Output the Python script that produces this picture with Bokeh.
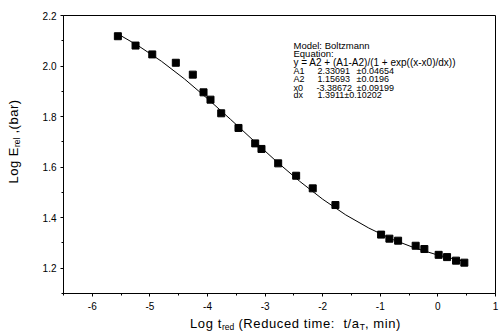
from bokeh.plotting import figure
from bokeh.models import Label, FixedTicker, PrintfTickFormatter, Range1d, Div
from bokeh.layouts import row, column
from bokeh.embed import file_html
from bokeh.resources import INLINE

# ---- data ----
log_t = [-5.556, -5.249, -4.959, -4.550, -4.255, -4.069, -3.948, -3.762,
         -3.462, -3.172, -3.063, -2.773, -2.461, -2.173, -1.779, -0.986,
         -0.842, -0.691, -0.386, -0.235, 0.013, 0.159, 0.315, 0.459]
log_e = [2.118, 2.081, 2.046, 2.013, 1.966, 1.896, 1.867, 1.813,
         1.755, 1.694, 1.672, 1.615, 1.566, 1.516, 1.450, 1.333,
         1.317, 1.309, 1.289, 1.276, 1.253, 1.244, 1.230, 1.222]

# fitted Boltzmann curve, sampled along the drawn line
fit_x = [-5.556, -5.2, -4.8, -4.4, -4.0, -3.6, -3.2, -2.8, -2.4, -2.0,
         -1.6, -1.2, -0.8, -0.4, 0.0, 0.459]
fit_y = [2.127, 2.080, 2.019, 1.949, 1.871, 1.789, 1.705, 1.622, 1.544,
         1.473, 1.411, 1.359, 1.315, 1.280, 1.252, 1.227]

x_ticks = [-6, -5, -4, -3, -2, -1, 0, 1]
x_minor = [-6.5, -5.5, -4.5, -3.5, -2.5, -1.5, -0.5, 0.5]
y_ticks = [1.2, 1.4, 1.6, 1.8, 2.0, 2.2]
y_minor = [1.1, 1.3, 1.5, 1.7, 1.9, 2.1]

param_names = ["A1", "A2", "x0"]
param_values = ["2.33091", "1.15693", "-3.38672"]
param_errors = ["\u00b10.04654", "\u00b10.0196", "\u00b10.09199"]
dx_line = "1.3911\u00b10.10202"

x_label_html = "Log t<span class='s'>red</span> (Reduced time:&nbsp; t/a<span class='s'>T</span>, min)"
y_label_html = "Log E<span class='s'>rel</span> ,(bar)"

FONT = "Liberation Sans"

W, H = 503, 336
YL_W = 30           # width of the y-label strip
XL_H = 20           # height of the x-label strip
FL, FR, FT, FB = 63, 495, 15, 293   # frame edges in page pixels
PW, PH = W - YL_W, H - XL_H

p = figure(width=PW, height=PH, title=None,
           x_range=Range1d(-6.5, 1), y_range=Range1d(1.1, 2.2),
           output_backend="svg", toolbar_location=None,
           min_border_left=FL - YL_W, min_border_right=W - FR,
           min_border_top=FT, min_border_bottom=PH - FB)
p.grid.visible = False
p.outline_line_color = "black"
p.outline_line_width = 1
p.background_fill_color = "white"
p.border_fill_color = "white"

for ax, tk, mn, fmt, so in ((p.xaxis, x_ticks, x_minor, "%d", 5),
                            (p.yaxis, y_ticks, y_minor, "%.1f", 4)):
    ax.ticker = FixedTicker(ticks=tk, minor_ticks=mn)
    ax.formatter = PrintfTickFormatter(format=fmt)
    ax.major_tick_in = 0
    ax.major_tick_out = 3
    ax.minor_tick_in = 0
    ax.minor_tick_out = 2
    ax.axis_line_color = "black"
    ax.major_tick_line_color = "black"
    ax.minor_tick_line_color = "black"
    ax.major_label_text_font = FONT
    ax.major_label_text_font_size = "10px"
    ax.major_label_text_color = "black"
    ax.major_label_standoff = so

p.line(fit_x, fit_y, line_color="black", line_width=1)
p.scatter(log_t, log_e, marker="square", size=7, color="black")

# page-pixel -> data helpers for text placement inside the frame
def X(px):
    return -6.5 + (px - FL) * 7.5 / (FR - FL)

def Y(py):
    return 2.2 - (py - FT) * 1.1 / (FB - FT)

def lab(px, py, text, size="9px"):
    p.add_layout(Label(x=X(px), y=Y(py), text=text, text_font=FONT,
                       text_font_size=size, text_color="black",
                       text_align="left", text_baseline="middle"))

# annotation box
lab(293, 45, "Model: Boltzmann", "9.5px")
lab(293, 53, "Equation:", "9.5px")
lab(293, 62, "y = A2 + (A1-A2)/(1 + exp((x-x0)/dx))", "10px")
rows_y = [70, 78, 87]
for name, val, err, ry in zip(param_names, param_values, param_errors, rows_y):
    lab(293, ry, name)
    lab(316 if val.startswith("-") else 317, ry, val)
    lab(356, ry, err)
lab(293, 94, "dx")
lab(317, 94, dx_line)

SUB_CSS = "<style>.s{font-size:8.5px;vertical-align:-2px;letter-spacing:0;}</style>"

xdiv = Div(width=PW, height=XL_H, margin=0,
           text=SUB_CSS + (
               "<div style=\"padding-left:%dpx;margin-top:-2px;line-height:13px;"
               "font-size:13px;font-family:'Liberation Sans';color:black;"
               "letter-spacing:0.6px;white-space:nowrap;\">%s</div>"
           ) % (190 - YL_W, x_label_html))

ydiv = Div(width=YL_W, height=H, margin=0,
           text=SUB_CSS + (
               "<div style=\"width:%dpx;height:%dpx;display:flex;align-items:center;"
               "justify-content:center;\">"
               "<div style=\"transform:rotate(-90deg);white-space:nowrap;flex:none;"
               "font-size:13px;line-height:15px;font-family:'Liberation Sans';"
               "color:black;letter-spacing:0.5px;\">%s</div></div>"
           ) % (YL_W + 1, 282, y_label_html))

layout = row(ydiv, column(p, xdiv, spacing=0), spacing=0)

open("out.html", "w").write(file_html(layout, INLINE))
